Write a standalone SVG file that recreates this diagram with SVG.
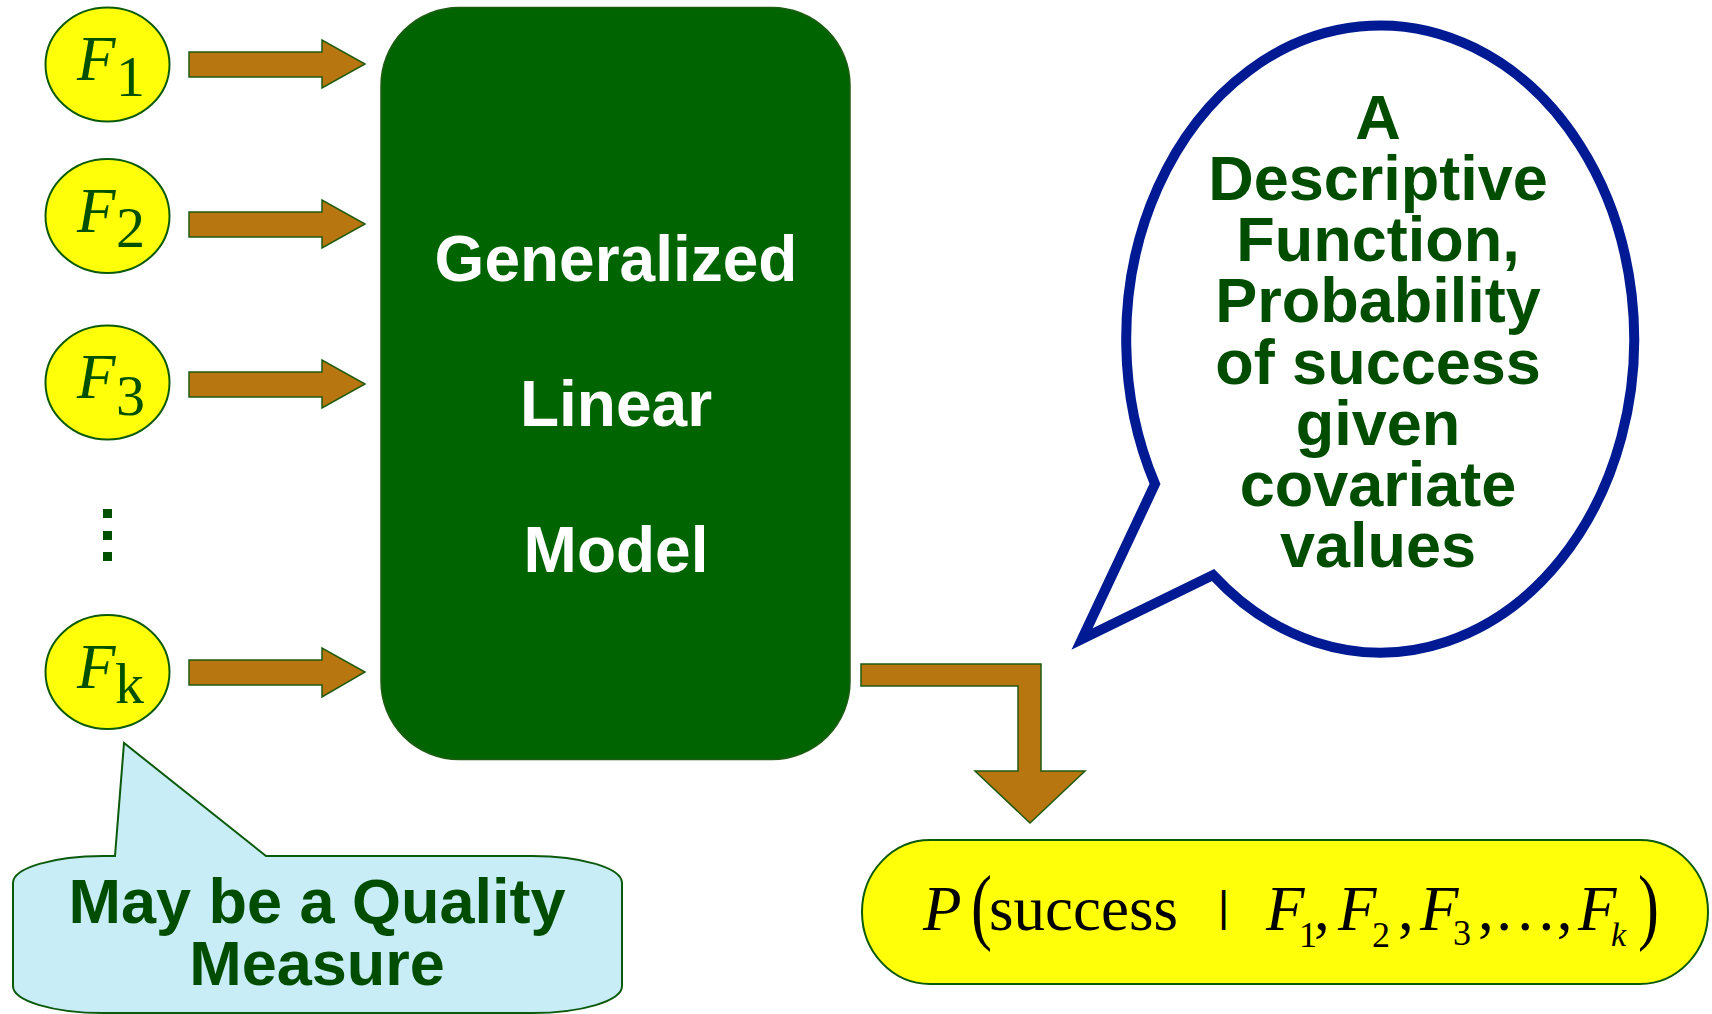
<svg xmlns="http://www.w3.org/2000/svg" width="1712" height="1014" viewBox="0 0 1712 1014">
<style>
.fnode{fill:#ffff0a;stroke:#0b5a0b;stroke-width:2}
.ftxt{font-family:"Liberation Serif",serif;fill:#005000}
.fF{font-style:italic;font-size:63px}
.fs{font-size:58px}
.arrow{fill:#b87610;stroke:#1e5a10;stroke-width:1.5;stroke-linejoin:miter}
.bold{font-family:"Liberation Sans",Arial,sans-serif;font-weight:bold;text-anchor:middle}
.dg{fill:#004d00}
.m{font-family:"Liberation Serif",serif;font-size:63px;fill:#000}
.mi{font-style:italic}
.sub{font-size:36px;font-style:normal}
.subk{font-size:34px;font-style:italic}
</style>
<rect width="1712" height="1014" fill="#ffffff"/>

<g id="connectors">
  <path class="arrow" d="M189 52 L322 52 L322 40 L365 64 L322 88 L322 77 L189 77 Z"/>
  <path class="arrow" d="M189 212 L322 212 L322 200 L365 224 L322 248 L322 237 L189 237 Z"/>
  <path class="arrow" d="M189 372 L322 372 L322 360 L365 384 L322 408 L322 397 L189 397 Z"/>
  <path class="arrow" d="M189 660 L322 660 L322 648 L365 672 L322 697 L322 685 L189 685 Z"/>
  <path class="arrow" d="M861 664 L1041 664 L1041 771 L1085 771 L1030 823 L975 771 L1018 771 L1018 686 L861 686 Z"/>
</g>

<g id="F1">
  <ellipse class="fnode" cx="107.5" cy="64.5" rx="62" ry="57"/>
  <text class="ftxt"><tspan class="fF" x="77" y="80">F</tspan><tspan class="fs" x="116" y="96">1</tspan></text>
</g>
<g id="F2">
  <ellipse class="fnode" cx="107.5" cy="216" rx="62" ry="57"/>
  <text class="ftxt"><tspan class="fF" x="77" y="232">F</tspan><tspan class="fs" x="116" y="247">2</tspan></text>
</g>
<g id="F3">
  <ellipse class="fnode" cx="107.5" cy="382.5" rx="62" ry="57"/>
  <text class="ftxt"><tspan class="fF" x="77" y="398">F</tspan><tspan class="fs" x="116" y="415">3</tspan></text>
</g>
<g id="dots" fill="#005000">
  <rect x="103" y="509" width="9" height="9"/>
  <rect x="103" y="531" width="9" height="9"/>
  <rect x="103" y="552" width="9" height="9"/>
</g>
<g id="Fk">
  <ellipse class="fnode" cx="107.5" cy="672" rx="62" ry="57"/>
  <text class="ftxt"><tspan class="fF" x="77" y="688">F</tspan><tspan class="fs" x="115" y="703">k</tspan></text>
</g>

<g id="glm">
  <rect x="381" y="7.5" width="469" height="752" rx="78" ry="78" fill="#006400" stroke="#1d5d12" stroke-width="1.5"/>
  <text class="bold" x="616" y="281" font-size="64" fill="#ffffff">Generalized</text>
  <text class="bold" x="616" y="426" font-size="64" fill="#ffffff">Linear</text>
  <text class="bold" x="616" y="572" font-size="64" fill="#ffffff">Model</text>
</g>

<g id="descriptive-callout">
  <path d="M1213 575 A254 313.5 0 1 0 1155 484 L1082 639 Z" fill="#ffffff" stroke="#001a94" stroke-width="10" stroke-linejoin="miter"/>
  <g class="bold dg" font-size="63">
    <text x="1378" y="139">A</text>
    <text x="1378" y="200">Descriptive</text>
    <text x="1378" y="261">Function,</text>
    <text x="1378" y="322">Probability</text>
    <text x="1378" y="384">of success</text>
    <text x="1378" y="445">given</text>
    <text x="1378" y="506">covariate</text>
    <text x="1378" y="567">values</text>
  </g>
</g>

<g id="quality-callout">
  <path d="M115 856 L124 743 L266 856 L532 856 A90 27 0 0 1 622 883 L622 986 A90 27 0 0 1 532 1013 L103 1013 A90 27 0 0 1 13 986 L13 883 A90 27 0 0 1 103 856 Z" fill="#c9edf7" stroke="#0b5a0b" stroke-width="2"/>
  <text class="bold dg" x="317" y="923" font-size="63">May be a Quality</text>
  <text class="bold dg" x="317" y="985" font-size="63">Measure</text>
</g>

<g id="output">
  <rect x="862" y="840" width="846" height="144" rx="68" ry="72" fill="#ffff0a" stroke="#0b5a0b" stroke-width="2"/>
  <text class="m" transform="translate(971,934) scale(1,1.35)">(</text>
  <text class="m" transform="translate(1638,934) scale(1,1.35)">)</text>
  <text class="m"><tspan class="mi" x="923" y="930">P</tspan><tspan x="989" y="930">success</tspan><tspan x="1218" y="921" font-family="Liberation Sans,sans-serif" font-size="43">|</tspan><tspan class="mi" x="1266" y="930">F</tspan><tspan class="sub" x="1299" y="947">1</tspan><tspan x="1314" y="930">,</tspan><tspan class="mi" x="1338" y="930">F</tspan><tspan class="sub" x="1372" y="947">2</tspan><tspan x="1398" y="930">,</tspan><tspan class="mi" x="1420" y="930">F</tspan><tspan class="sub" x="1453" y="945">3</tspan><tspan x="1478" y="930">,…,</tspan><tspan class="mi" x="1578" y="930">F</tspan><tspan class="subk" x="1611" y="946">k</tspan></text>
</g>
</svg>
